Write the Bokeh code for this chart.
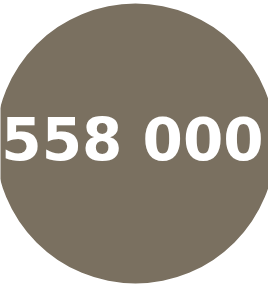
from bokeh.plotting import figure
from bokeh.models import Range1d, ColumnDataSource
from bokeh.core.properties import value
from bokeh.embed import file_html
from bokeh.resources import INLINE

# data
values = [558000]
labels = ["558 000"]
colors = ["#7a7060"]

W, H = 268, 285
p = figure(width=W, height=H, output_backend="svg", toolbar_location=None,
           x_range=Range1d(0, W), y_range=Range1d(H, 0), min_border=0)
p.axis.visible = False
p.grid.visible = False
p.outline_line_color = None
p.background_fill_color = "white"
p.border_fill_color = "white"

cx, cy, r = 135, 143, 140
src = ColumnDataSource(dict(x=[cx], y=[cy], label=labels, color=colors, v=values))
p.circle(x="x", y="y", radius=r, fill_color="color", line_color=None, source=src)

tsrc = ColumnDataSource(dict(x=[cx - 3], y=[139], label=labels))
p.text(x="x", y="y", text="label", source=tsrc, text_font=value("DejaVu Sans"),
       text_font_style="bold", text_font_size="58px", text_color="white",
       text_align="center", text_baseline="alphabetic")

open("out.html", "w").write(file_html(p, INLINE))
